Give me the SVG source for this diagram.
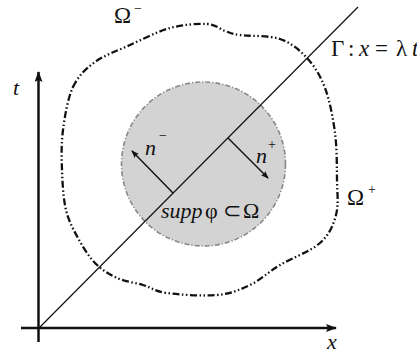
<svg xmlns="http://www.w3.org/2000/svg" width="417" height="356" viewBox="0 0 417 356">
<style>
  .t { font-family: "Liberation Serif", "Times New Roman", serif; fill: #111; }
  .it { font-style: italic; }
  .axis { stroke: #111; stroke-width: 2.5; fill: none; }
  .normal { stroke: #111; stroke-width: 1.4; fill: none; }
</style>
<defs>
  <marker id="axhead" viewBox="0 0 11 8" refX="10" refY="4" markerWidth="11" markerHeight="8" markerUnits="userSpaceOnUse" orient="auto">
    <path d="M0,0 L11,4 L0,8 L2,4 Z" fill="#111"/>
  </marker>
  <marker id="nhead" viewBox="0 0 8 6" refX="7" refY="3" markerWidth="8" markerHeight="6" markerUnits="userSpaceOnUse" orient="auto">
    <path d="M0,0 L8,3 L0,6 L1.5,3 Z" fill="#111"/>
  </marker>
</defs>
<g id="omega-region">
  <path d="M 73,87 C 78.3,75.7 85.5,69 95,62 C 104.5,55 117.5,50.7 130,45 C 142.5,39.3 157.2,31.5 170,28 C 182.8,24.5 197.8,23.5 207,24 C 216.2,24.5 219.5,29.2 225,31 C 230.5,32.8 230.8,33.7 240,35 C 249.2,36.3 268.8,35.2 280,39 C 291.2,42.8 299.5,49.8 307,58 C 314.5,66.2 320.3,75.5 325,88 C 329.7,100.5 333,117.7 335,133 C 337,148.3 336.8,166.3 337,180 C 337.2,193.7 338.8,204.5 336,215 C 333.2,225.5 329.3,234.7 320,243 C 310.7,251.3 291.7,258 280,265 C 268.3,272 260.5,280 250,285 C 239.5,290 230.8,293.7 217,295 C 203.2,296.3 179.3,294.7 167,293 C 154.7,291.3 151.3,287.5 143,285 C 134.7,282.5 125,281.7 117,278 C 109,274.3 101.5,269.7 95,263 C 88.5,256.3 82.8,246.8 78,238 C 73.2,229.2 68.7,221.3 66,210 C 63.3,198.7 62.5,183.3 62,170 C 61.5,156.7 61.2,143.8 63,130 C 64.8,116.2 67.7,98.3 73,87 Z" fill="none" stroke="#111" stroke-width="2.3" stroke-dasharray="7 2.5 1.5 2.5 1.5 2.5"/>
</g>
<g id="support-disk">
  <circle cx="203.5" cy="164" r="82" fill="#d3d3d3" stroke="#888" stroke-width="1.6" stroke-dasharray="5 2 1.2 2"/>
</g>
<g id="connectors">
  <line id="t-axis" class="axis" x1="38.5" y1="342" x2="38.5" y2="72" marker-end="url(#axhead)"/>
  <line id="x-axis" class="axis" x1="21" y1="328" x2="336" y2="328" marker-end="url(#axhead)"/>
  <line id="gamma" x1="40" y1="327" x2="358" y2="7" stroke="#111" stroke-width="1.2"/>
  <line id="n-minus" class="normal" x1="173" y1="193" x2="132" y2="151" marker-end="url(#nhead)"/>
  <line id="n-plus" class="normal" x1="228" y1="138" x2="268" y2="178" marker-end="url(#nhead)"/>
</g>
<g id="labels">
  <text class="t it" x="13" y="95" font-size="22">t</text>
  <text class="t it" x="327" y="349" font-size="22">x</text>
  <text class="t" x="114" y="23" font-size="23">Ω</text>
  <text class="t" x="134" y="13" font-size="14">−</text>
  <text class="t" x="347" y="205" font-size="23">Ω</text>
  <text class="t" x="368" y="194" font-size="14">+</text>
  <text class="t" x="331" y="56" font-size="23">Γ<tspan x="348">:</tspan><tspan class="it" x="359">x</tspan><tspan x="375">=</tspan><tspan x="396">λ</tspan><tspan class="it" x="412">t</tspan></text>
  <text class="t it" x="145" y="155" font-size="22">n</text>
  <text class="t" x="159" y="140" font-size="14">−</text>
  <text class="t it" x="256" y="163" font-size="22">n</text>
  <text class="t" x="268" y="149" font-size="14">+</text>
  <text class="t" x="161" y="218" font-size="22"><tspan class="it">supp</tspan><tspan x="205">φ</tspan><tspan x="223">⊂</tspan><tspan x="243">Ω</tspan></text>
</g>
</svg>
